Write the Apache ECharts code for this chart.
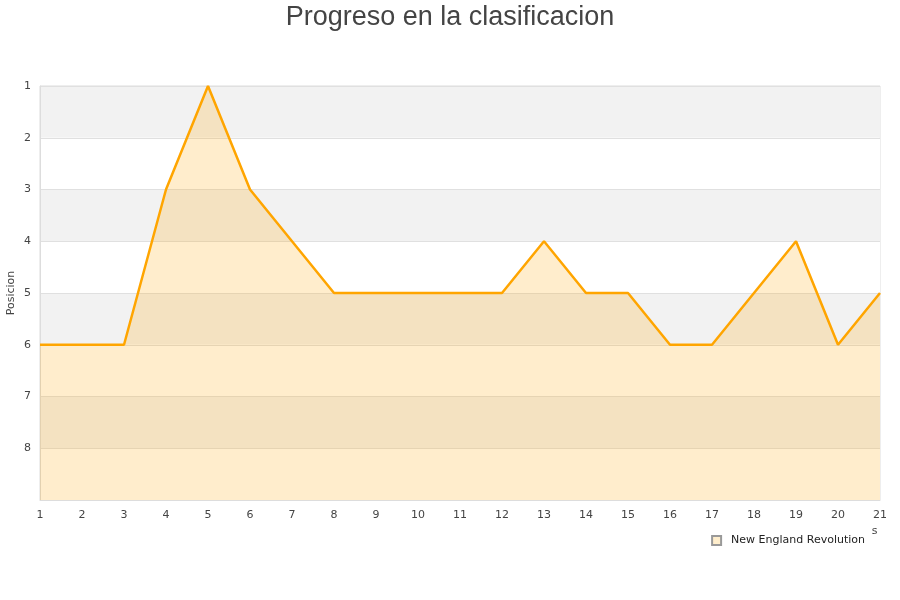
<!DOCTYPE html>
<html>
<head>
<meta charset="utf-8">
<script src="https://cdn.jsdelivr.net/npm/echarts@6/dist/echarts.min.js"></script>
<style>
  html, body { margin: 0; padding: 0; background: #fff; }
  #chart { width: 900px; height: 600px; }
</style>
</head>
<body>
<div id="chart"></div>
<script>
const jornadas = ['1', '2', '3', '4', '5', '6', '7', '8', '9', '10', '11', '12', '13', '14', '15', '16', '17', '18', '19', '20', '21'];
const posiciones = [6, 6, 6, 3, 1, 3, 4, 5, 5, 5, 5, 5, 4, 5, 5, 6, 6, 5, 4, 6, 5];
const equipo = 'New England Revolution';

const chart = echarts.init(document.getElementById('chart'));
chart.setOption({
  animation: false,
  title: {
    text: 'Progreso en la clasificacion',
    left: 'center',
    top: -1,
    textStyle: { fontFamily: 'Liberation Sans', fontSize: 27, fontWeight: 'normal', color: '#444' }
  },
  grid: {
    left: 40, right: 20, top: 86, bottom: 100,
    outerBoundsMode: 'none',
    containLabel: false,
    show: true, borderColor: '#ddd', borderWidth: 1
  },
  legend: {
    data: [{ name: equipo, icon: 'rect' }],
    right: 28, bottom: 50,
    itemWidth: 9, itemHeight: 9,
    backgroundColor: '#fff',
    padding: [11, 7, 4, 5],
    z: 10,
    textStyle: { fontFamily: 'DejaVu Sans', fontSize: 11, color: '#222', padding: [0, 0, 0, 5] }
  },
  xAxis: {
    type: 'category',
    data: jornadas,
    boundaryGap: false,
    name: 'Jornadas',
    nameLocation: 'end',
    nameGap: -50,
    nameTextStyle: { fontFamily: 'DejaVu Sans', fontSize: 11, color: '#444', verticalAlign: 'top', padding: [26, 0, 0, 0] },
    axisLine: { lineStyle: { color: '#ddd' } },
    axisTick: { show: false },
    axisLabel: { fontFamily: 'DejaVu Sans', fontSize: 11, color: '#444', margin: 10 },
    splitLine: { show: false }
  },
  yAxis: {
    type: 'value',
    inverse: true,
    min: 1, max: 9, interval: 1,
    name: 'Posicion',
    nameLocation: 'middle',
    nameGap: 23,
    nameMoveOverlap: false,
    nameTextStyle: { fontFamily: 'DejaVu Sans', fontSize: 11, color: '#444' },
    axisLine: { show: true, lineStyle: { color: '#ddd' } },
    axisTick: { show: false },
    axisLabel: {
      fontFamily: 'DejaVu Sans', fontSize: 11, color: '#444', margin: 9,
      formatter: v => (v === 9 ? '' : v)
    },
    splitLine: { show: true, lineStyle: { color: '#e0e0e0' } },
    splitArea: { show: true, areaStyle: { color: ['#f2f2f2', '#ffffff'] } }
  },
  series: [{
    name: equipo,
    type: 'line',
    data: posiciones,
    symbol: 'none',
    lineStyle: { color: '#ffa500', width: 2.5 },
    itemStyle: { color: '#ffeecc', borderColor: '#999', borderWidth: 1 },
    areaStyle: { color: 'rgba(255,165,0,0.2)', opacity: 1, origin: 'end' }
  }]
});
</script>
</body>
</html>
